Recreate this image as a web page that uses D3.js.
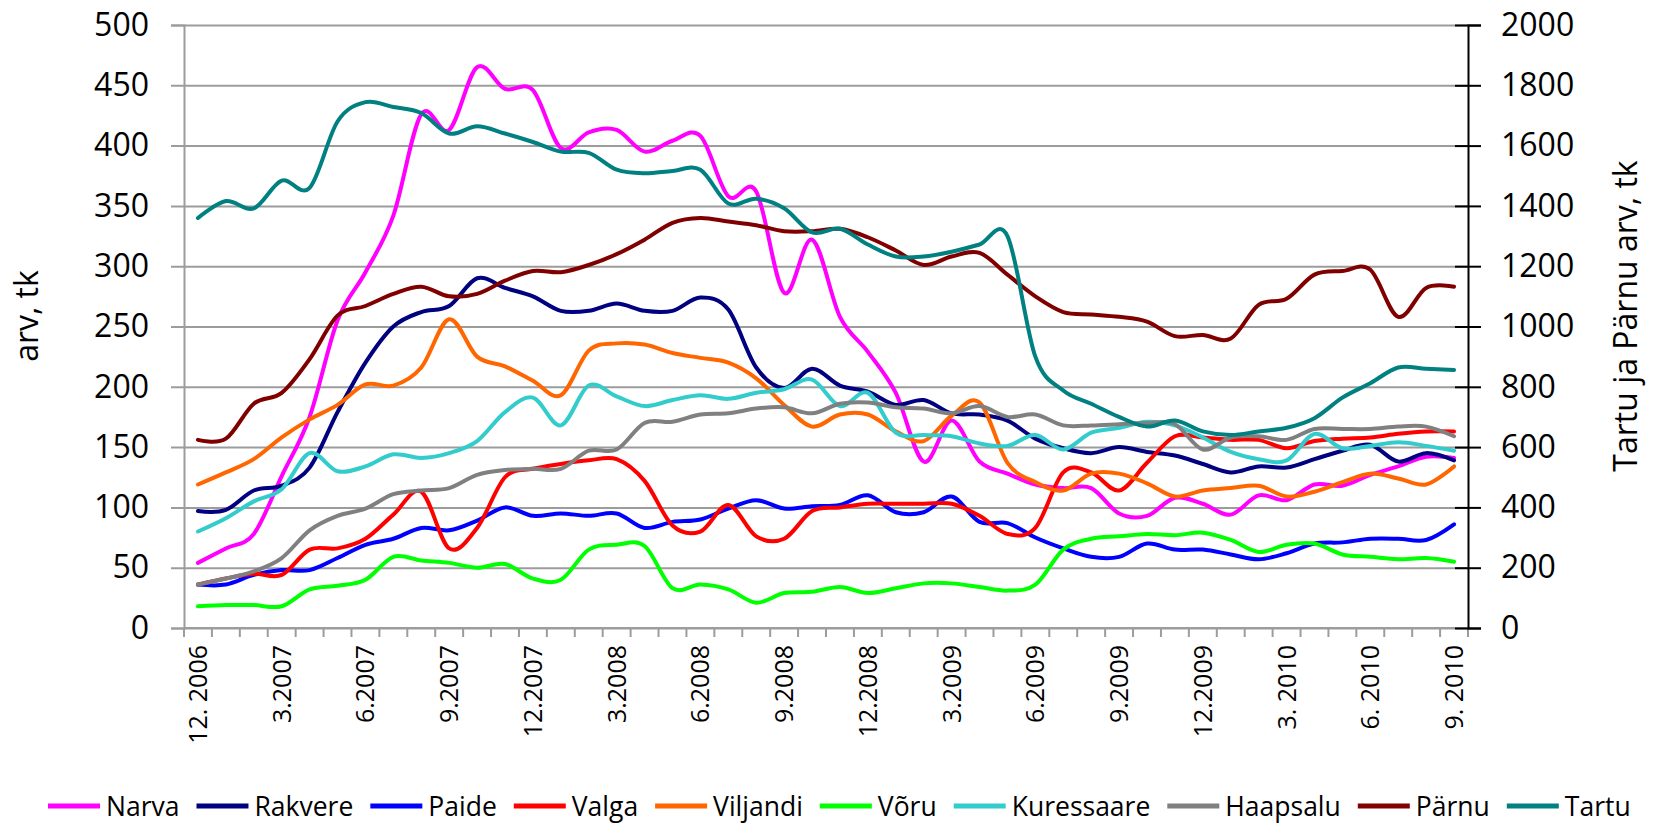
<!DOCTYPE html>
<html><head><meta charset="utf-8">
<script src="https://cdn.jsdelivr.net/npm/d3@7"></script>
<style>
body{margin:0;background:#fff}
svg{display:block}
text{font-family:"Open Sans",sans-serif;fill:#000}
</style>
</head><body>
<svg id="c" width="1654" height="827"></svg>
<script>
const months = ["12.2006","1.2007","2.2007","3.2007","4.2007","5.2007","6.2007","7.2007","8.2007","9.2007","10.2007","11.2007",
"12.2007","1.2008","2.2008","3.2008","4.2008","5.2008","6.2008","7.2008","8.2008","9.2008","10.2008","11.2008",
"12.2008","1.2009","2.2009","3.2009","4.2009","5.2009","6.2009","7.2009","8.2009","9.2009","10.2009","11.2009",
"12.2009","1.2010","2.2010","3.2010","4.2010","5.2010","6.2010","7.2010","8.2010","9.2010"];
const tickLabels = {"12.2006":"12. 2006","3.2007":"3.2007","6.2007":"6.2007","9.2007":"9.2007","12.2007":"12.2007",
"3.2008":"3.2008","6.2008":"6.2008","9.2008":"9.2008","12.2008":"12.2008","3.2009":"3.2009","6.2009":"6.2009",
"9.2009":"9.2009","12.2009":"12.2009","3.2010":"3. 2010","6.2010":"6. 2010","9.2010":"9. 2010"};
const leftTicks = [0,50,100,150,200,250,300,350,400,450,500];
const rightTicks = [0,200,400,600,800,1000,1200,1400,1600,1800,2000];

const narva = [54,66,78,126,175,255,295,342,426,413,465,447,446,398,411,413,395,404,408,358,362,278,322,258,229,195,138,172,138,128,119,116,116,95,93,108,103,94,110,106,119,118,127,134,142,141];
const rakvere = [97,98,114,118,133,179,220,250,262,267,290,282,275,263,263,269,263,263,274,264,216,199,215,201,196,185,189,178,177,172,157,149,145,150,146,143,136,129,134,133,140,147,152,138,145,139];
const paide = [36,36,44,48,48,58,69,74,83,81,89,100,93,95,93,95,83,88,90,99,106,99,101,102,110,96,96,109,88,87,75,66,59,59,70,65,65,61,57,62,70,71,74,74,73,86];
const valga = [36,41,45,44,65,66,74,94,113,66,83,125,132,136,139,140,122,85,80,102,76,74,97,100,103,103,103,103,93,78,83,129,129,114,137,159,158,156,156,149,155,157,158,161,163,163];
const viljandi = [119,129,140,158,173,185,202,201,216,256,225,217,205,193,230,236,235,228,224,220,207,185,167,177,177,163,155,176,187,137,121,114,128,128,120,109,114,116,118,109,113,121,128,124,119,134];
const voru = [18,19,19,18,32,35,40,59,56,54,50,53,41,40,65,69,68,33,36,32,21,29,30,34,29,33,37,37,34,31,36,65,74,76,78,77,79,73,63,69,70,61,59,57,58,55];
const kuressaare = [80,91,105,115,145,130,134,144,141,145,155,179,191,168,201,192,184,189,193,190,195,198,206,184,195,162,160,159,153,151,160,148,162,166,171,168,158,146,140,139,161,149,151,154,151,147];
const haapsalu = [36,41,47,58,81,93,99,111,114,116,127,131,132,132,147,148,170,171,177,178,182,183,178,186,187,183,182,178,184,175,177,168,168,169,170,169,148,158,159,156,165,165,165,167,167,159];
const parnu = [624,628,744,780,892,1036,1068,1108,1132,1100,1108,1152,1184,1180,1204,1240,1288,1344,1360,1348,1336,1316,1316,1324,1296,1252,1204,1232,1244,1172,1100,1048,1040,1032,1016,968,972,960,1072,1092,1172,1184,1188,1032,1128,1132];
const tartu = [1360,1416,1392,1484,1460,1680,1744,1728,1708,1640,1664,1640,1612,1580,1576,1520,1508,1516,1520,1408,1424,1392,1312,1324,1272,1232,1232,1248,1272,1300,900,788,744,700,668,688,652,640,652,664,696,764,812,864,860,856];

const seriesNames = ["Narva","Rakvere","Paide","Valga","Viljandi","Võru","Kuressaare","Haapsalu","Pärnu","Tartu"];
const seriesValues = [narva,rakvere,paide,valga,viljandi,voru,kuressaare,haapsalu,parnu,tartu];
const seriesAxis = ["L","L","L","L","L","L","L","L","R","R"];
const seriesColors = ["#FF00FF","#000080","#0000FF","#FF0000","#FF6600","#00FF00","#33CCCC","#808080","#800000","#008080"];
const series = seriesNames.map((n,i)=>({name:n, values:seriesValues[i], axis:seriesAxis[i], color:seriesColors[i]}));

const svg = d3.select("#c");
const L=184, R=1468, T=25, B=628;
const x = d3.scaleBand().domain(months).range([L,R]).padding(0);
const yL = d3.scaleLinear().domain([0,500]).range([B,T]);
const yR = d3.scaleLinear().domain([0,2000]).range([B,T]);
const gridCol = "#9c9c9c";

// gridlines + left ticks
const gLeft = svg.append("g").attr("transform",`translate(${L},0)`)
  .call(d3.axisLeft(yL).tickValues(leftTicks).tickSize(13).tickPadding(22).tickFormat(d3.format("d")));
gLeft.select(".domain").attr("stroke",gridCol).attr("stroke-width",2);
gLeft.selectAll(".tick line").attr("stroke",gridCol).attr("stroke-width",2).attr("x2",-13).attr("x1",R-L);
gLeft.selectAll(".tick text").attr("font-size",32).attr("fill","#000").attr("font-family","'Open Sans',sans-serif");

// x axis
const gx = svg.append("g").attr("transform",`translate(0,${B})`);
gx.append("line").attr("x1",L).attr("x2",R).attr("stroke",gridCol).attr("stroke-width",2);
const bounds = months.map(m=>x(m)).concat([R]);
gx.selectAll("line.tk").data(bounds).enter().append("line").attr("class","tk")
  .attr("x1",d=>d).attr("x2",d=>d).attr("y1",0).attr("y2",9).attr("stroke",gridCol).attr("stroke-width",2);
const labeled = months.filter(m=>tickLabels[m]);
gx.selectAll("text.xl").data(labeled).enter().append("text").attr("class","xl")
  .attr("transform",d=>`translate(${x(d)+x.bandwidth()/2},17) rotate(-90)`)
  .attr("dy","0.36em").attr("text-anchor","end").attr("font-size",25).text(d=>tickLabels[d]);

// lines
const line = (ys)=>d3.line().x((d,i)=>x(months[i])+x.bandwidth()/2).y(d=>ys(d)).curve(d3.curveCatmullRom.alpha(0));
svg.append("g").selectAll("path").data(series).enter().append("path")
  .attr("d",s=>line(s.axis==="L"?yL:yR)(s.values))
  .attr("fill","none").attr("stroke",s=>s.color).attr("stroke-width",4)
  .attr("stroke-linejoin","round").attr("stroke-linecap","round");

// right axis
const gRight = svg.append("g").attr("transform",`translate(${R},0)`)
  .call(d3.axisRight(yR).tickValues(rightTicks).tickSize(13).tickPadding(20).tickFormat(d3.format("d")));
gRight.select(".domain").attr("stroke","#000").attr("stroke-width",2);
gRight.selectAll(".tick line").attr("stroke","#000").attr("stroke-width",2).attr("x1",-13);
gRight.selectAll(".tick text").attr("font-size",32).attr("fill","#000").attr("font-family","'Open Sans',sans-serif");

// axis titles
svg.append("text").attr("transform","translate(38,316) rotate(-90)").attr("text-anchor","middle")
  .attr("font-size",32).text("arv, tk");
svg.append("text").attr("transform","translate(1637,316) rotate(-90)").attr("text-anchor","middle")
  .attr("font-size",32).text("Tartu ja Pärnu arv, tk");

// legend
const lg = svg.append("g").attr("transform","translate(0,806)");
let cx = 48;
series.forEach(s=>{
  lg.append("line").attr("x1",cx).attr("x2",cx+52).attr("stroke",s.color).attr("stroke-width",5);
  const t = lg.append("text").attr("x",cx+58).attr("dy","0.36em").attr("font-size",26.5).text(s.name);
  cx = cx+58+t.node().getComputedTextLength()+17;
});
</script>
</body></html>
